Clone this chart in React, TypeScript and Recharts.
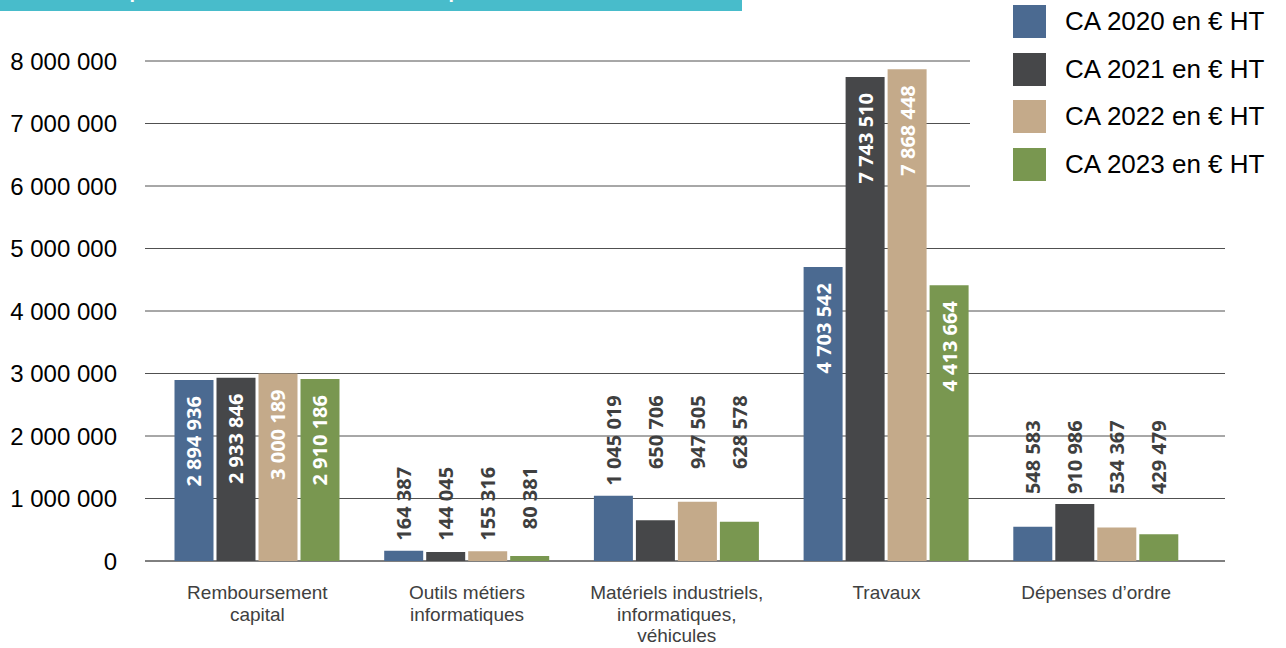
import { BarChart, Bar, XAxis, YAxis, CartesianGrid, LabelList } from "recharts";

const categories = [
    "Remboursement capital",
    "Outils métiers informatiques",
    "Matériels industriels, informatiques, véhicules",
    "Travaux",
    "Dépenses d’ordre",
];
const tickLines = [
    ["Remboursement", "capital"],
    ["Outils métiers", "informatiques"],
    ["Matériels industriels,", "informatiques,", "véhicules"],
    ["Travaux"],
    ["Dépenses d’ordre"],
];
const ca2020 = [2894936, 164387, 1045019, 4703542, 548583];
const ca2021 = [2933846, 144045, 650706, 7743510, 910986];
const ca2022 = [3000189, 155316, 947505, 7868448, 534367];
const ca2023 = [2910186, 80381, 628578, 4413664, 429479];
const seriesNames = ["CA 2020 en € HT", "CA 2021 en € HT", "CA 2022 en € HT", "CA 2023 en € HT"];
const yTicks = [0, 1000000, 2000000, 3000000, 4000000, 5000000, 6000000, 7000000, 8000000];

const allSeries = [ca2020, ca2021, ca2022, ca2023];
const COLORS = ["#4b6a91", "#464749", "#c4aa8a", "#799750"];
const LABEL_FONT = 'bold 20px "Open Sans"';

const data = categories.map((name, i) => ({
    name,
    s0: ca2020[i],
    s1: ca2021[i],
    s2: ca2022[i],
    s3: ca2023[i],
}));

const fmt = (v: number) => String(v).replace(/\B(?=(\d{3})+(?!\d))/g, " ");

let ctx: CanvasRenderingContext2D | null = null;
function textWidth(s: string) {
    if (!ctx) ctx = document.createElement("canvas").getContext("2d");
    if (!ctx) return s.length * 10;
    ctx.font = LABEL_FONT;
    return ctx.measureText(s).width;
}

const GAP = 10;
const INSET = 16;

function makeLabel(seriesIdx: number) {
    return (props: any) => {
        const { x, y, width, height, index } = props;
        const value = allSeries[seriesIdx][index];
        if (!value || !height) return null;
        const base = y + height;
        const k = height / value;
        const w = textWidth(fmt(value));
        const cx = x + width / 2;
        const inside = height > w + 30;
        let ay: number;
        if (inside) {
            ay = y + INSET;
        } else {
            // outside labels of one category share a common top
            let top = Infinity;
            allSeries.forEach((s) => {
                const h = s[index] * k;
                const tw = textWidth(fmt(s[index]));
                if (h > tw + 30) return;
                top = Math.min(top, base - h - GAP - tw);
            });
            ay = top;
        }
        return (
            <text
                x={cx}
                y={ay}
                transform={`rotate(-90, ${cx}, ${ay})`}
                textAnchor="end"
                dominantBaseline="central"
                fill={inside ? "#ffffff" : "#3f3f3f"}
                style={{ font: LABEL_FONT }}
            >
                {fmt(value)}
            </text>
        );
    };
}

const XTick = (props: any) => {
    const { x, y, payload } = props;
    const lines = tickLines[payload.index] || [payload.value];
    return (
        <text x={x} y={y + 30} textAnchor="middle" fill="#404040" style={{ fontFamily: '"Liberation Sans", Arial, sans-serif', fontSize: 19 }}>
            {lines.map((l: string, i: number) => (
                <tspan key={i} x={x} dy={i === 0 ? 0 : 21.5}>
                    {l}
                </tspan>
            ))}
        </text>
    );
};

const LegendBox = () => (
    <div style={{ position: "absolute", left: 970, top: 0, width: 316, height: 195, background: "#fff", zIndex: 2 }}>
        <div style={{ paddingTop: 5 }}>
            {seriesNames.map((n, i) => (
                <div key={n} style={{ display: "flex", alignItems: "center", height: 33, marginBottom: 14.7, marginLeft: 43 }}>
                    <div style={{ width: 33, height: 33, background: COLORS[i] }} />
                    <span style={{ marginLeft: 19, fontFamily: '"Liberation Sans", Arial, sans-serif', fontSize: 26, color: "#000", whiteSpace: "nowrap" }}>
                        {n}
                    </span>
                </div>
            ))}
        </div>
    </div>
);

const gridLine = (props: any) => {
    const isZero = Math.abs(props.y1 - 561) < 1;
    return (
        <line
            key={`h-${props.index}`}
            x1={props.x1 - 7.5}
            x2={props.x2 + 24}
            y1={props.y1}
            y2={props.y2}
            stroke={isZero ? "#000" : "#505050"}
            strokeWidth={1}
        />
    );
};

export default function App() {
    return (
        <div style={{ position: "absolute", left: 0, top: 0, width: 1286, height: 648, background: "#fff" }}>
            <div style={{ position: "absolute", left: 0, top: 0, width: 742, height: 11, background: "#48bccb", overflow: "hidden", zIndex: 3 }}>
                <div style={{ position: "absolute", left: 6, top: -20, color: "#fff", font: 'bold 20px "Liberation Sans", Arial, sans-serif', whiteSpace: "nowrap" }}>
                    Détail des dépenses d’investissement sur les quatre derniers exercices
                </div>
            </div>
            <LegendBox />
            <BarChart
                width={1286}
                height={648}
                data={data}
                margin={{ top: 61, right: 85, bottom: 7, left: 0 }}
                barSize={39}
                barGap={3}
            >
                <CartesianGrid vertical={false} horizontal={gridLine} />
                <XAxis dataKey="name" axisLine={false} tickLine={false} height={80} tick={<XTick />} interval={0} />
                <YAxis
                    width={152.5}
                    domain={[0, 8000000]}
                    ticks={yTicks}
                    axisLine={false}
                    tickLine={false}
                    tickSize={6}
                    tickMargin={29.5}
                    tickFormatter={fmt}
                    tick={{ fill: "#000", fontSize: 24, fontFamily: '"Liberation Sans", Arial, sans-serif' }}
                />
                {[0, 1, 2, 3].map((i) => (
                    <Bar key={i} dataKey={`s${i}`} name={seriesNames[i]} fill={COLORS[i]} isAnimationActive={false}>
                        <LabelList dataKey={`s${i}`} content={makeLabel(i)} />
                    </Bar>
                ))}
            </BarChart>
        </div>
    );
}
